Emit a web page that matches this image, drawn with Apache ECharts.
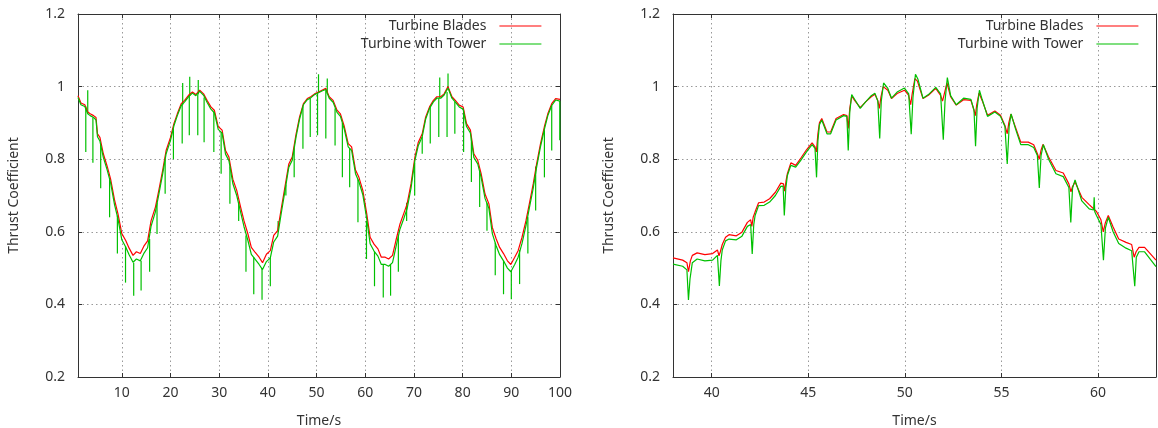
<!DOCTYPE html>
<html>
<head>
<meta charset="utf-8">
<script src="https://cdn.jsdelivr.net/npm/echarts@6/dist/echarts.min.js"></script>
<style>
  html, body { margin: 0; padding: 0; background: #fff; }
  #chart { width: 1158px; height: 428px; }
</style>
</head>
<body>
<div id="chart"></div>
<script>
// ---- data ----
var leftTicks = [10, 20, 30, 40, 50, 60, 70, 80, 90, 100];
var rightTicks = [40, 45, 50, 55, 60];

// left plot: full 100 s run
var leftTime = [1.0, 1.6, 2.4, 3.0, 3.5, 4.2, 4.7, 5.0, 5.5, 6.2, 7.0, 7.7, 8.5, 9.2, 10.0, 10.8, 11.5, 12.3, 13.0, 13.8,
  14.6, 15.3, 16.0, 16.9, 17.6, 18.4, 19.1, 20.0, 20.7, 21.4, 22.2, 22.9, 23.7, 24.5, 25.2, 26.0, 26.8, 27.5, 28.3, 29.0,
  29.8, 30.6, 31.3, 32.0, 32.8, 33.6, 34.4, 35.1, 35.9, 36.6, 37.4, 38.2, 38.9, 39.7, 40.5, 41.2, 42.0, 42.7, 43.5, 44.3,
  45.0, 45.8, 46.5, 47.3, 48.1, 48.8, 49.6, 50.4, 51.1, 51.9, 52.6, 53.4, 54.2, 54.9, 55.7, 56.5, 57.2, 58.0, 58.7, 59.5,
  60.3, 61.0, 61.8, 62.6, 63.3, 64.1, 64.8, 65.6, 66.3, 67.1, 67.9, 68.6, 69.4, 70.2, 70.9, 71.7, 72.4, 73.2, 74.0, 74.7,
  75.5, 76.2, 77.0, 77.8, 78.5, 79.3, 80.1, 80.8, 81.6, 82.3, 83.1, 83.8, 84.6, 85.4, 86.1, 86.9, 87.6, 88.4, 89.2, 89.9,
  90.7, 91.4, 92.2, 93.0, 93.7, 94.5, 95.2, 96.0, 96.8, 97.5, 98.3, 99.1, 100.0];
var leftBlades = [0.975, 0.955, 0.95, 0.93, 0.925, 0.92, 0.915, 0.87, 0.86, 0.815, 0.78, 0.745, 0.688, 0.65, 0.595, 0.576, 0.555, 0.535, 0.545, 0.54,
  0.562, 0.575, 0.63, 0.668, 0.714, 0.77, 0.824, 0.86, 0.898, 0.925, 0.953, 0.962, 0.976, 0.985, 0.978, 0.99, 0.98, 0.962, 0.944, 0.935,
  0.89, 0.88, 0.824, 0.806, 0.745, 0.714, 0.668, 0.63, 0.594, 0.557, 0.543, 0.53, 0.515, 0.538, 0.548, 0.59, 0.603, 0.66, 0.723, 0.787,
  0.806, 0.87, 0.916, 0.953, 0.967, 0.972, 0.98, 0.985, 0.99, 0.995, 0.972, 0.962, 0.935, 0.925, 0.89, 0.843, 0.834, 0.77, 0.75, 0.714,
  0.65, 0.585, 0.566, 0.553, 0.53, 0.53, 0.525, 0.535, 0.576, 0.62, 0.65, 0.677, 0.732, 0.806, 0.847, 0.87, 0.916, 0.944, 0.962, 0.972,
  0.972, 0.98, 1.0, 0.972, 0.962, 0.949, 0.944, 0.898, 0.88, 0.815, 0.797, 0.76, 0.704, 0.677, 0.612, 0.58, 0.557, 0.54, 0.52, 0.51,
  0.53, 0.548, 0.585, 0.63, 0.677, 0.732, 0.787, 0.843, 0.89, 0.925, 0.953, 0.967, 0.965];
var leftTower = [0.97, 0.95, 0.945, 0.925, 0.92, 0.915, 0.908, 0.862, 0.85, 0.805, 0.77, 0.735, 0.675, 0.636, 0.578, 0.558, 0.537, 0.516, 0.525, 0.52,
  0.542, 0.556, 0.615, 0.655, 0.703, 0.76, 0.815, 0.852, 0.892, 0.92, 0.948, 0.958, 0.972, 0.982, 0.975, 0.987, 0.976, 0.957, 0.938, 0.928,
  0.882, 0.872, 0.814, 0.796, 0.733, 0.7, 0.654, 0.614, 0.576, 0.538, 0.524, 0.51, 0.496, 0.518, 0.528, 0.572, 0.588, 0.647, 0.712, 0.778,
  0.797, 0.862, 0.91, 0.95, 0.964, 0.969, 0.978, 0.983, 0.988, 0.992, 0.968, 0.957, 0.929, 0.918, 0.882, 0.834, 0.824, 0.76, 0.738, 0.702,
  0.636, 0.567, 0.547, 0.533, 0.51, 0.51, 0.505, 0.515, 0.558, 0.606, 0.636, 0.664, 0.72, 0.797, 0.838, 0.862, 0.91, 0.94, 0.958, 0.968,
  0.968, 0.977, 0.996, 0.968, 0.957, 0.944, 0.938, 0.89, 0.872, 0.805, 0.787, 0.75, 0.692, 0.664, 0.595, 0.561, 0.537, 0.52, 0.5, 0.49,
  0.51, 0.53, 0.568, 0.616, 0.665, 0.72, 0.778, 0.835, 0.883, 0.92, 0.948, 0.963, 0.96];
// tower-shadow spikes on the green trace: [time, base, tip]
var leftSpikes = [
  [2.6, 0.945, 0.82], [3.0, 0.925, 0.99], [4.06, 0.915, 0.79], [5.66, 0.84, 0.72], [7.49, 0.745, 0.64], [9.09, 0.645, 0.54],
  [10.76, 0.56, 0.46], [12.44, 0.515, 0.424], [13.96, 0.52, 0.438], [15.71, 0.58, 0.49], [17.23, 0.68, 0.594], [18.9, 0.8, 0.705],
  [20.6, 0.885, 0.8], [22.4, 0.95, 0.843], [22.5, 0.95, 1.01], [23.86, 0.974, 0.866], [23.95, 0.974, 1.027], [25.6, 0.978, 0.866],
  [25.7, 0.978, 1.018], [26.9, 0.97, 0.847], [28.9, 0.93, 0.82], [30.4, 0.875, 0.76], [32.2, 0.78, 0.677], [34.0, 0.68, 0.63],
  [35.5, 0.59, 0.49], [37.1, 0.53, 0.428], [38.8, 0.5, 0.413], [40.5, 0.53, 0.45], [42.1, 0.6, 0.63], [43.7, 0.73, 0.70],
  [45.4, 0.83, 0.75], [47.2, 0.945, 0.829], [48.7, 0.968, 0.861], [50.2, 0.982, 0.866], [50.4, 0.983, 1.034], [51.9, 0.99, 0.857],
  [52.2, 0.98, 1.022], [53.8, 0.94, 0.838], [55.3, 0.9, 0.75], [56.8, 0.83, 0.723], [58.5, 0.745, 0.626], [60.25, 0.63, 0.525],
  [61.9, 0.545, 0.45], [63.7, 0.51, 0.419], [65.2, 0.51, 0.424], [66.8, 0.59, 0.49], [68.5, 0.68, 0.63], [70.15, 0.79, 0.7],
  [71.7, 0.862, 0.815], [73.35, 0.945, 0.843], [75.1, 0.968, 0.861], [75.3, 0.968, 1.025], [76.8, 0.985, 0.861], [77.0, 0.996, 1.036],
  [78.4, 0.958, 0.87], [80.2, 0.935, 0.82], [81.8, 0.86, 0.737], [83.5, 0.765, 0.668], [85.0, 0.68, 0.603], [86.7, 0.57, 0.48],
  [88.4, 0.52, 0.428], [90.0, 0.492, 0.414], [91.7, 0.55, 0.456], [93.4, 0.64, 0.54], [95.0, 0.78, 0.659], [96.8, 0.88, 0.75],
  [98.3, 0.948, 0.824], [99.95, 0.96, 0.852]
];

// right plot: 38 s to 63 s close-up, [time, thrust coefficient]
var rightBlades = [
  [38.0, 0.528], [38.5, 0.522], [38.72, 0.515], [38.8, 0.49], [38.9, 0.52], [39.0, 0.535], [39.25, 0.542], [39.65, 0.537],
  [40.05, 0.54], [40.3, 0.55], [40.38, 0.534], [40.45, 0.545], [40.55, 0.565], [40.72, 0.585], [40.9, 0.592], [41.28, 0.589],
  [41.57, 0.599], [41.85, 0.626], [42.02, 0.633], [42.08, 0.615], [42.15, 0.64], [42.25, 0.655], [42.43, 0.68], [42.72, 0.682],
  [43.0, 0.691], [43.3, 0.709], [43.58, 0.734], [43.72, 0.732], [43.78, 0.712], [43.85, 0.74], [43.92, 0.76], [44.1, 0.79],
  [44.35, 0.783], [44.63, 0.804], [44.91, 0.826], [45.2, 0.845], [45.35, 0.834], [45.42, 0.82], [45.5, 0.87], [45.58, 0.9],
  [45.7, 0.912], [45.97, 0.875], [46.16, 0.875], [46.44, 0.912], [46.83, 0.923], [47.0, 0.92], [47.07, 0.885], [47.15, 0.94],
  [47.25, 0.974], [47.4, 0.962], [47.69, 0.942], [47.97, 0.958], [48.26, 0.972], [48.45, 0.979], [48.6, 0.962], [48.68, 0.94],
  [48.76, 0.97], [48.88, 1.0], [49.12, 0.99], [49.31, 0.967], [49.6, 0.981], [49.98, 0.99], [50.2, 0.976], [50.3, 0.95],
  [50.38, 0.98], [50.52, 1.022], [50.65, 1.015], [50.94, 0.967], [51.22, 0.976], [51.6, 0.995], [51.85, 0.976], [51.95, 0.96],
  [52.02, 0.975], [52.18, 1.01], [52.37, 0.972], [52.66, 0.949], [53.04, 0.964], [53.42, 0.962], [53.58, 0.935], [53.65, 0.92],
  [53.72, 0.95], [53.84, 0.982], [54.0, 0.962], [54.28, 0.921], [54.66, 0.933], [54.95, 0.921], [55.18, 0.893], [55.3, 0.87],
  [55.38, 0.9], [55.49, 0.924], [55.72, 0.889], [56.0, 0.847], [56.39, 0.847], [56.67, 0.84], [56.86, 0.815], [56.96, 0.8],
  [57.05, 0.825], [57.15, 0.841], [57.44, 0.806], [57.82, 0.769], [58.2, 0.762], [58.49, 0.732], [58.6, 0.71], [58.68, 0.725],
  [58.81, 0.737], [59.16, 0.695], [59.54, 0.675], [59.92, 0.656], [60.15, 0.633], [60.27, 0.6], [60.38, 0.625], [60.53, 0.645],
  [60.78, 0.613], [61.07, 0.58], [61.45, 0.571], [61.74, 0.565], [61.87, 0.53], [61.97, 0.545], [62.12, 0.557], [62.41, 0.557],
  [63.0, 0.522]
];
var rightTower = [
  [38.0, 0.511], [38.5, 0.505], [38.72, 0.495], [38.8, 0.412], [38.88, 0.47], [39.0, 0.515], [39.25, 0.525], [39.65, 0.52],
  [40.05, 0.522], [40.3, 0.535], [40.4, 0.451], [40.48, 0.52], [40.55, 0.55], [40.72, 0.575], [40.9, 0.58], [41.28, 0.578],
  [41.57, 0.588], [41.85, 0.615], [42.02, 0.62], [42.1, 0.539], [42.18, 0.62], [42.25, 0.645], [42.43, 0.672], [42.72, 0.673],
  [43.0, 0.682], [43.3, 0.7], [43.58, 0.725], [43.7, 0.726], [43.76, 0.645], [43.84, 0.72], [43.92, 0.755], [44.1, 0.783],
  [44.35, 0.778], [44.63, 0.798], [44.91, 0.82], [45.2, 0.84], [45.35, 0.83], [45.43, 0.75], [45.5, 0.85], [45.58, 0.895],
  [45.7, 0.908], [45.97, 0.87], [46.16, 0.87], [46.44, 0.908], [46.83, 0.92], [47.0, 0.918], [47.07, 0.824], [47.15, 0.93],
  [47.25, 0.978], [47.4, 0.965], [47.69, 0.94], [47.97, 0.958], [48.26, 0.975], [48.45, 0.982], [48.6, 0.96], [48.7, 0.857],
  [48.78, 0.96], [48.9, 1.01], [49.12, 0.995], [49.31, 0.968], [49.6, 0.985], [49.98, 0.996], [50.2, 0.98], [50.33, 0.869],
  [50.42, 0.97], [50.55, 1.034], [50.68, 1.02], [50.94, 0.968], [51.22, 0.978], [51.6, 0.998], [51.85, 0.98], [51.99, 0.854],
  [52.08, 0.96], [52.2, 1.025], [52.37, 0.975], [52.66, 0.95], [53.04, 0.968], [53.42, 0.965], [53.58, 0.935], [53.66, 0.836],
  [53.74, 0.94], [53.86, 0.99], [54.0, 0.965], [54.28, 0.918], [54.66, 0.93], [54.95, 0.918], [55.18, 0.89], [55.3, 0.787],
  [55.4, 0.89], [55.5, 0.925], [55.72, 0.885], [56.0, 0.84], [56.39, 0.84], [56.67, 0.832], [56.86, 0.81], [56.96, 0.721],
  [57.05, 0.81], [57.17, 0.84], [57.44, 0.8], [57.82, 0.76], [58.2, 0.752], [58.49, 0.722], [58.59, 0.626], [58.68, 0.72],
  [58.81, 0.743], [59.16, 0.685], [59.54, 0.663], [59.77, 0.66], [59.8, 0.695], [59.83, 0.655], [59.92, 0.645], [60.15, 0.62],
  [60.28, 0.522], [60.38, 0.61], [60.53, 0.64], [60.78, 0.6], [61.07, 0.568], [61.45, 0.555], [61.74, 0.548], [61.9, 0.45],
  [61.98, 0.53], [62.12, 0.545], [62.41, 0.545], [63.0, 0.504]
];

var names = ['Turbine Blades', 'Turbine with Tower'];
var colors = ['#ff0000', '#00c000'];

// ---- chart ----
var font = 'Noto Sans';
var ink = '#333';
var fs = 14;

function zip(xs, ys) {
  var out = [];
  for (var i = 0; i < xs.length; i++) out.push([xs[i], ys[i]]);
  return out;
}

function xAx(grid, min, max, ticks, top) {
  return {
    type: 'value', gridIndex: grid, min: min, max: max, position: top ? 'top' : 'bottom',
    name: top ? '' : 'Time/s', nameLocation: 'middle', nameGap: 37,
    nameTextStyle: { color: ink, fontSize: fs, fontFamily: font },
    axisLine: { show: true, onZero: false, lineStyle: { color: ink, width: 1 } },
    axisTick: { show: true, inside: true, length: 4, customValues: ticks, lineStyle: { color: ink } },
    axisLabel: { show: !top, customValues: ticks, margin: 9, color: ink, fontSize: fs, fontFamily: font },
    splitLine: { show: !top, lineStyle: { color: '#999', type: [1.5, 3], width: 1 } }
  };
}

function yAx(grid, right) {
  return {
    type: 'value', gridIndex: grid, min: 0.2, max: 1.2, interval: 0.2, position: right ? 'right' : 'left',
    name: right ? '' : 'Thrust Coefficient', nameLocation: 'middle', nameGap: 57,
    nameTextStyle: { color: ink, fontSize: fs, fontFamily: font },
    axisLine: { show: true, onZero: false, lineStyle: { color: ink, width: 1 } },
    axisTick: { show: true, inside: true, length: 4, lineStyle: { color: ink } },
    axisLabel: {
      show: !right, margin: 13, color: ink, fontSize: fs, fontFamily: font,
      formatter: function (v) { return String(+v.toFixed(1)); }
    },
    splitLine: { show: !right, lineStyle: { color: '#999', type: [1.5, 3], width: 1 } }
  };
}

function lineSeries(name, color, data, axis) {
  return {
    type: 'line', name: name, data: data, xAxisIndex: axis, yAxisIndex: axis,
    symbol: 'none', showSymbol: false, silent: true,
    lineStyle: { color: color, width: 1.2 }, itemStyle: { color: color }
  };
}

// gnuplot-style key: text right-aligned, short line sample to its right
function legend(right) {
  return {
    data: names,
    orient: 'vertical', align: 'right', right: right, top: 19, padding: 0,
    itemWidth: 42, itemHeight: 14, itemGap: 4, selectedMode: false,
    itemStyle: { opacity: 0 },
    lineStyle: { width: 1.2 },
    textStyle: { color: ink, fontSize: fs, fontFamily: font, padding: [0, 8, 0, 0] }
  };
}

var chart = echarts.init(document.getElementById('chart'), null, { renderer: 'canvas' });
chart.setOption({
  backgroundColor: '#fff',
  animation: false,
  grid: [
    { left: 78, top: 14, width: 482, height: 363, outerBoundsMode: 'none' },
    { left: 673, top: 14, width: 483, height: 363, outerBoundsMode: 'none' }
  ],
  legend: [legend(616), legend(19)],
  xAxis: [
    xAx(0, 1, 100, leftTicks, false), xAx(0, 1, 100, leftTicks, true),
    xAx(1, 38, 63, rightTicks, false), xAx(1, 38, 63, rightTicks, true)
  ],
  yAxis: [yAx(0, false), yAx(0, true), yAx(1, false), yAx(1, true)],
  series: [
    lineSeries(names[0], colors[0], zip(leftTime, leftBlades), 0),
    lineSeries(names[1], colors[1], zip(leftTime, leftTower), 0),
    {
      type: 'custom', xAxisIndex: 0, yAxisIndex: 0, silent: true, data: leftSpikes,
      encode: { x: 0, y: [1, 2] },
      renderItem: function (params, api) {
        var a = api.coord([api.value(0), api.value(1)]);
        var b = api.coord([api.value(0), api.value(2)]);
        return {
          type: 'line',
          shape: { x1: a[0], y1: a[1], x2: b[0], y2: b[1] },
          style: { stroke: colors[1], lineWidth: 1.2 }
        };
      }
    },
    lineSeries(names[0], colors[0], rightBlades, 2),
    lineSeries(names[1], colors[1], rightTower, 2)
  ]
});
</script>
</body>
</html>
